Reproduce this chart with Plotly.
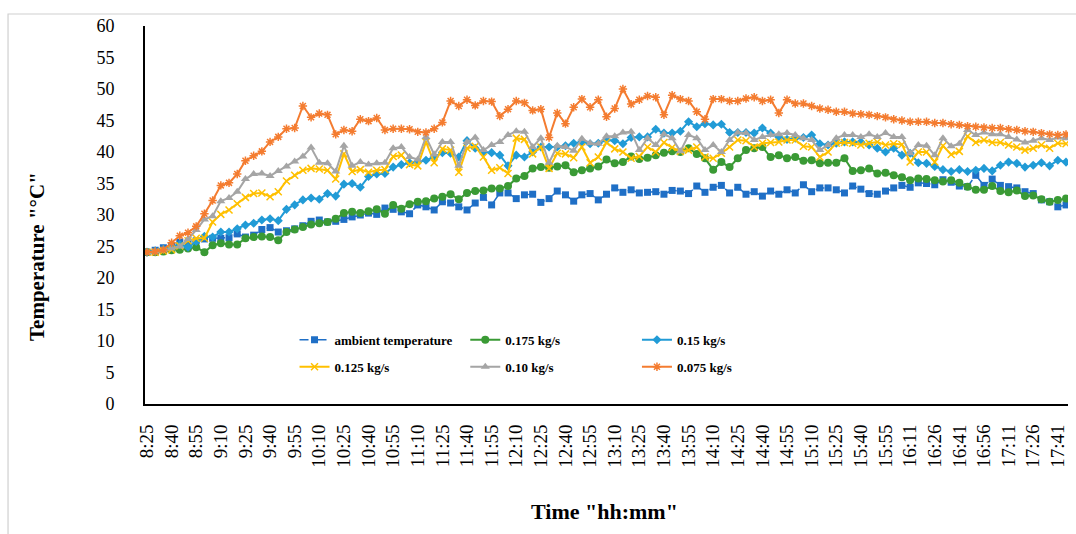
import plotly.graph_objects as go

# Sample times: every 5 min from 8:25 to 15:55, then every 5 min from 16:01
def _clock(total_min):
    return f"{total_min // 60}:{total_min % 60:02d}"

times = [_clock(8 * 60 + 25 + 5 * k) for k in range(91)] + \
        [_clock(16 * 60 + 1 + 5 * k) for k in range(22)]

ambient = [24.1, 24.4, 24.8, 25.0, 25.7, 25.4, 25.9, 26.2, 26.3, 26.3,
           26.4, 27.0, 26.5, 26.8, 27.7, 28.0, 27.3, 27.5, 27.8, 28.3,
           29.0, 29.2, 28.9, 29.0, 29.3, 29.7, 30.0, 30.3, 30.1, 31.1,
           30.9, 30.5, 30.2, 31.6, 31.3, 30.8, 32.1, 31.9, 31.3, 30.8,
           31.9, 32.8, 31.6, 33.5, 33.5, 32.6, 33.2, 33.3, 32.0, 32.6,
           33.8, 33.2, 32.2, 33.2, 33.4, 32.4, 33.3, 34.3, 33.6, 34.0,
           33.5, 33.6, 33.7, 33.3, 33.9, 33.8, 33.4, 34.6, 33.6, 34.4,
           34.7, 33.5, 34.4, 33.3, 33.7, 33.0, 33.8, 33.3, 34.0, 33.5,
           34.8, 33.7, 34.3, 34.3, 34.0, 33.5, 34.6, 34.1, 33.4, 33.3,
           33.8, 34.3, 34.7, 34.4, 35.1, 35.0, 34.8, 35.6, 35.2, 34.6,
           34.5, 36.3, 34.7, 35.7, 34.7, 34.5, 34.3, 33.7, 33.4, 32.4,
           32.1, 31.3, 31.6]

flow_0175 = [24.1, 24.1, 24.2, 24.4, 24.5, 24.7, 24.9, 24.1, 25.2, 25.5,
             25.3, 25.3, 26.3, 26.5, 26.6, 26.5, 26.0, 27.3, 27.7, 28.1,
             28.5, 28.7, 28.9, 29.4, 30.3, 30.5, 30.3, 30.6, 30.9, 30.2,
             31.6, 31.0, 31.7, 32.1, 32.2, 32.6, 32.9, 33.3, 32.5, 33.5,
             33.8, 33.9, 34.2, 34.2, 34.6, 35.8, 36.2, 37.4, 37.6, 37.5,
             37.7, 37.9, 36.8, 37.1, 37.4, 37.7, 38.8, 38.2, 38.4, 39.3,
             38.9, 39.1, 39.5, 39.9, 40.1, 40.0, 40.6, 39.7, 39.0, 37.2,
             38.4, 37.6, 39.0, 40.3, 40.6, 40.8, 39.2, 39.5, 39.0, 39.2,
             38.6, 38.7, 38.2, 38.3, 38.3, 39.0, 37.0, 37.1, 37.4, 36.6,
             36.7, 36.3, 36.0, 35.5, 35.8, 35.7, 35.5, 35.3, 35.5, 35.1,
             34.5, 34.0, 34.0, 34.6, 33.8, 33.6, 33.9, 33.0, 33.1, 32.5,
             32.1, 32.4, 32.6]

flow_015 = [24.1, 24.3, 24.6, 24.9, 25.3, 24.9, 25.8, 26.6, 26.5, 27.3,
            27.3, 27.8, 28.4, 28.7, 29.2, 29.4, 29.1, 30.9, 31.6, 32.4,
            32.7, 32.5, 33.4, 33.0, 34.9, 35.0, 34.4, 36.1, 36.5, 36.6,
            37.6, 38.0, 38.3, 38.4, 38.7, 39.2, 39.9, 39.8, 39.2, 41.8,
            40.6, 40.0, 39.9, 39.5, 37.8, 39.5, 39.2, 40.0, 40.8, 40.8,
            40.8, 41.0, 41.4, 41.6, 41.3, 41.4, 41.9, 41.8, 41.3, 42.3,
            42.4, 42.4, 43.6, 43.0, 43.0, 43.3, 44.8, 44.0, 44.5, 44.3,
            44.4, 43.1, 43.1, 43.1, 43.0, 43.8, 43.0, 42.4, 42.0, 42.2,
            42.3, 42.7, 41.3, 41.1, 41.4, 41.6, 41.6, 41.6, 41.1, 40.6,
            40.0, 40.6, 39.5, 39.8, 38.3, 38.2, 37.7, 37.2, 36.9, 37.2,
            36.9, 37.1, 37.4, 37.0, 37.9, 38.4, 38.2, 37.6, 37.9, 38.3,
            37.8, 38.7, 38.4]

flow_0125 = [24.1, 24.1, 24.3, 24.5, 25.1, 25.9, 26.3, 26.3, 28.9, 30.1,
             30.8, 31.8, 32.8, 33.4, 33.5, 32.9, 33.7, 35.4, 36.3, 37.1,
             37.4, 37.3, 37.1, 35.7, 39.7, 36.9, 37.2, 36.8, 37.1, 37.2,
             39.3, 39.5, 38.0, 37.8, 41.6, 38.3, 40.5, 40.3, 36.8, 40.6,
             40.9, 39.2, 37.1, 37.5, 36.6, 42.2, 42.0, 39.7, 40.8, 37.4,
             39.8, 39.7, 39.1, 40.8, 38.3, 39.2, 41.5, 40.5, 40.0, 39.0,
             39.3, 40.8, 40.0, 41.5, 40.7, 40.1, 40.3, 40.8, 39.2, 39.0,
             39.8, 40.8, 41.9, 41.8, 40.8, 41.4, 41.5, 41.6, 41.9, 41.9,
             40.9, 40.8, 39.2, 40.0, 41.4, 41.5, 41.4, 41.1, 41.4, 41.6,
             41.1, 41.3, 41.2, 38.4, 40.0, 40.0, 38.4, 41.0, 39.6, 40.1,
             42.5, 41.5, 41.9, 41.5, 41.5, 41.1, 40.8, 40.3, 40.6, 41.1,
             40.6, 41.4, 41.3]

flow_010 = [24.1, 24.2, 24.4, 24.7, 25.0, 26.2, 27.6, 29.3, 29.8, 32.2,
            32.7, 33.7, 35.7, 36.5, 36.6, 36.2, 37.0, 37.7, 38.5, 39.3,
            40.7, 38.3, 38.2, 36.9, 41.0, 37.8, 38.4, 38.0, 38.2, 38.3,
            40.6, 40.8, 39.2, 38.8, 42.4, 39.6, 41.6, 41.6, 37.8, 41.6,
            42.3, 40.3, 41.1, 41.6, 42.7, 43.3, 43.2, 40.8, 42.2, 38.3,
            41.0, 40.8, 40.2, 42.1, 41.4, 41.3, 42.5, 42.5, 43.1, 43.2,
            40.3, 42.2, 41.1, 42.8, 42.2, 40.1, 42.7, 42.2, 40.3, 41.1,
            40.0, 41.9, 43.1, 43.0, 41.9, 42.4, 42.7, 42.8, 43.0, 42.7,
            42.2, 41.9, 40.3, 41.1, 42.2, 42.7, 42.7, 42.4, 42.8, 42.4,
            43.0, 42.4, 42.4, 39.8, 41.1, 41.0, 39.5, 42.2, 40.9, 41.3,
            43.5, 42.7, 43.1, 42.8, 42.8, 42.4, 42.0, 41.5, 41.8, 42.2,
            41.9, 42.3, 42.2]

flow_0075 = [24.1, 24.2, 24.5, 25.6, 26.7, 27.2, 28.2, 30.2, 32.3, 34.7,
             35.1, 36.5, 38.6, 39.4, 40.1, 41.6, 42.4, 43.7, 43.8, 47.3,
             45.5, 46.1, 45.9, 42.8, 43.5, 43.3, 45.2, 44.9, 45.4, 43.5,
             43.7, 43.7, 43.6, 43.2, 43.1, 43.7, 44.7, 48.1, 47.3, 48.3,
             47.4, 48.1, 48.0, 45.7, 46.8, 48.1, 47.8, 46.6, 46.8, 42.3,
             46.2, 44.5, 47.1, 48.4, 47.1, 48.3, 45.6, 46.9, 50.0, 47.6,
             48.3, 48.9, 48.7, 45.9, 49.0, 48.4, 48.1, 46.4, 45.2, 48.4,
             48.4, 48.1, 48.1, 48.5, 48.7, 48.1, 48.3, 46.2, 48.3, 47.7,
             47.7, 47.3, 46.9, 46.7, 46.4, 46.4, 46.1, 46.0, 45.9, 45.7,
             45.5, 45.2, 45.0, 44.8, 44.8, 44.8, 44.6, 44.6, 44.4, 44.3,
             44.1, 44.0, 43.9, 43.8, 43.8, 43.6, 43.5, 43.3, 43.2, 43.0,
             42.8, 42.7, 42.8]

y_ticks = list(range(0, 61, 5))

idx = list(range(len(times)))
SERIF = "Liberation Serif, Times New Roman, serif"

# name, values, colour, marker symbol, marker size, dash
series = [
    ("ambient temperature", ambient, "#1F6FC6", "square", 7, "dashdot"),
    ("0.175 kg/s", flow_0175, "#3A9A35", "circle", 8, "solid"),
    ("0.15 kg/s", flow_015, "#219BD6", "diamond", 7, "solid"),
    ("0.125 kg/s", flow_0125, "#FFC000", "x-thin", 7, "solid"),
    ("0.10 kg/s", flow_010, "#A5A5A5", "triangle-up", 8, "solid"),
    ("0.075 kg/s", flow_0075, "#F47C30", "asterisk", 7, "solid"),
]

# legend slots: (paper x of entry box, row)
legend_x = [0.162, 0.347, 0.533]
legend_rows = [0.170, 0.0985]

fig = go.Figure()
for k, (name, vals, col, sym, size, dash) in enumerate(series):
    lname = "legend" if k == 0 else f"legend{k + 1}"
    marker = dict(symbol=sym, size=size, color=col,
                  line=dict(color=col, width=1.5 if sym in ("x-thin", "asterisk") else 0))
    fig.add_trace(go.Scatter(
        x=idx, y=vals, name=name, mode="lines+markers",
        line=dict(color=col, width=2 if dash == "solid" else 1.5, dash=dash),
        marker=marker, legend=lname,
    ))

legend_layout = {}
for k in range(len(series)):
    lname = "legend" if k == 0 else f"legend{k + 1}"
    legend_layout[lname] = dict(
        x=legend_x[k % 3], y=legend_rows[k // 3],
        xanchor="left", yanchor="middle",
        bgcolor="rgba(0,0,0,0)",
        font=dict(family=SERIF, size=13, color="black", weight="bold"),
    )

fig.update_layout(
    width=1076, height=534,
    margin=dict(l=145, r=8, t=26, b=130),
    paper_bgcolor="white", plot_bgcolor="white",
    showlegend=True,
    **legend_layout,
    xaxis=dict(
        range=[-0.24, 112.24], showgrid=False, zeroline=False,
        showline=True, linecolor="black", linewidth=2,
        tickmode="array", tickvals=idx[::3], ticktext=times[::3],
        tickangle=-90, ticks="", ticklabelstandoff=11,
        tickfont=dict(family=SERIF, size=19, color="black"),
    ),
    yaxis=dict(
        range=[0, 60], showgrid=False, zeroline=False,
        showline=True, linecolor="black", linewidth=2,
        tickmode="array", tickvals=y_ticks,
        ticks="", ticklabelstandoff=25,
        tickfont=dict(family=SERIF, size=18, color="black"),
    ),
    annotations=[
        dict(text='Temperature "°C"', x=-0.117, y=0.389, xref="paper", yref="paper",
             xanchor="center", yanchor="middle",
             textangle=-90, showarrow=False,
             font=dict(family=SERIF, size=21, color="black", weight="bold")),
        dict(text='Time "hh:mm"', x=0.498, y=-0.2857, xref="paper", yref="paper",
             xanchor="center", yanchor="middle",
             showarrow=False,
             font=dict(family=SERIF, size=22, color="black", weight="bold")),
    ],
    shapes=[
        dict(type="rect", xref="paper", yref="paper",
             x0=-0.1484, x1=1.02, y0=-0.40, y1=1.0317,
             line=dict(color="#D0D0D0", width=1.2), fillcolor="rgba(0,0,0,0)",
             layer="below"),
    ],
)

fig.write_html("out.html")
